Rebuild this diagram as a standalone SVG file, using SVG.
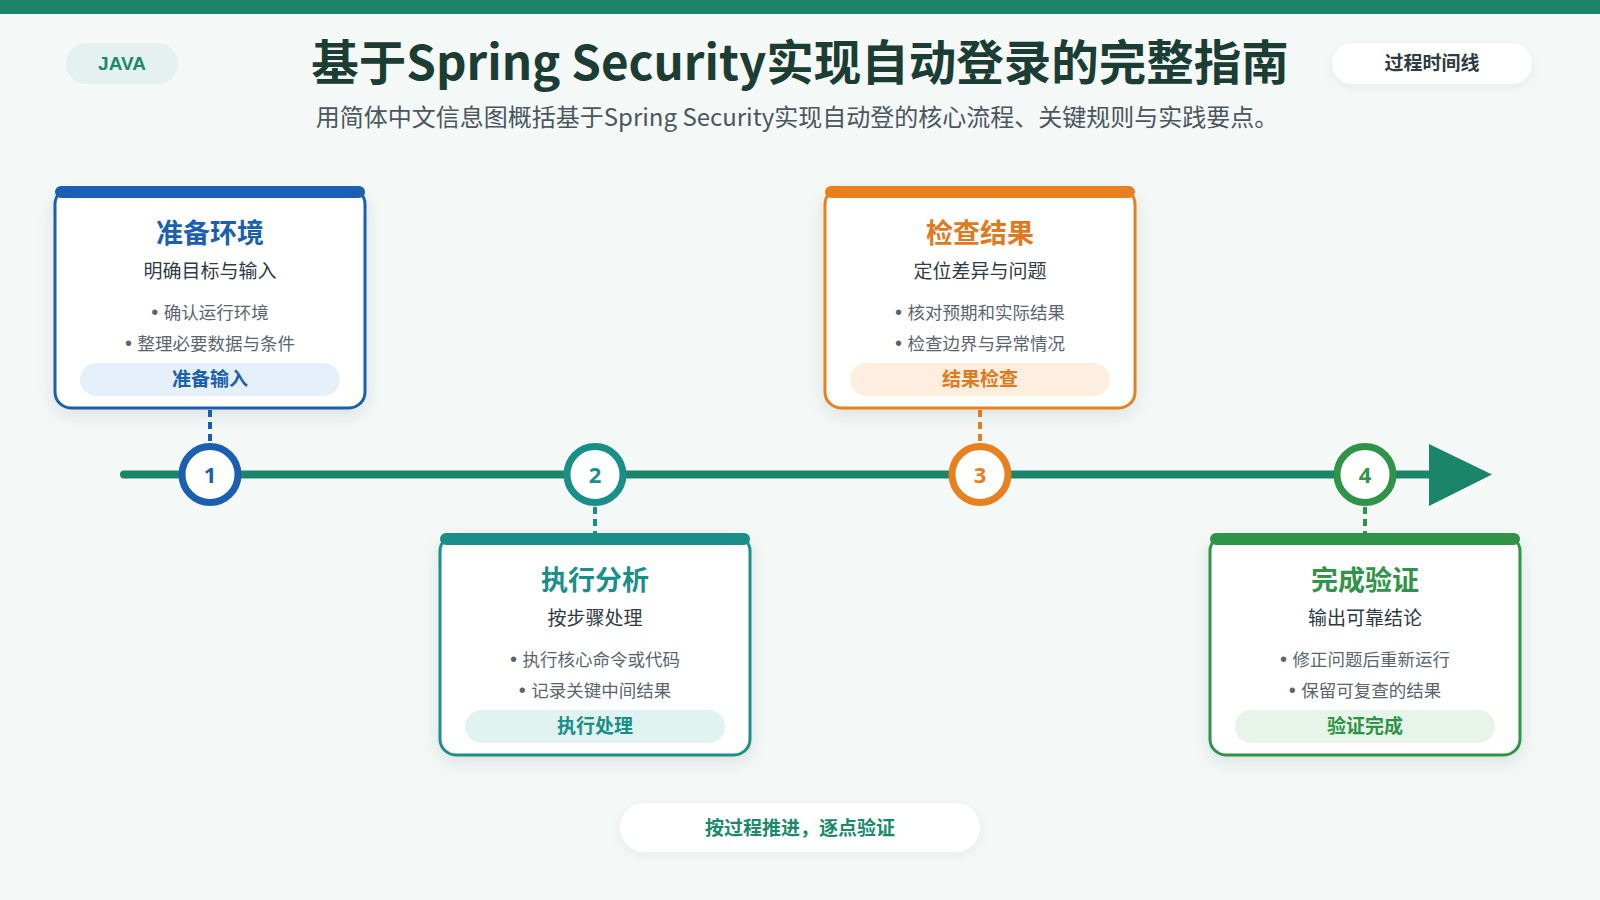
<svg xmlns="http://www.w3.org/2000/svg" width="1600" height="900" viewBox="0 0 1600 900">
<defs>
<filter id="sh" x="-20%" y="-20%" width="140%" height="150%">
<feDropShadow dx="0" dy="6" stdDeviation="8" flood-color="#2a4a40" flood-opacity="0.12"/>
</filter>
<filter id="sh2" x="-20%" y="-40%" width="140%" height="180%">
<feDropShadow dx="0" dy="3" stdDeviation="6" flood-color="#2a4a40" flood-opacity="0.06"/>
</filter>
<style>
text{font-family:"Noto Sans CJK SC","Noto Sans",sans-serif;text-anchor:middle}
.title{font-size:47.5px;font-weight:700;fill:#1b3d33}
.sub{font-size:24px;fill:#4b5660}
.ct{font-size:27px;font-weight:700}
.cs{font-size:19px;fill:#2f3a44}
.cb{font-size:17.5px;fill:#5a6570}
.dot{font-family:"Liberation Sans",sans-serif;font-size:20px;fill:#5a6570}
.cp{font-size:19px;font-weight:700}
.num{font-size:22px;font-weight:700;font-family:"Noto Sans","Liberation Sans",sans-serif}
.card{fill:#ffffff;stroke-width:3}
.dash{stroke-width:4;stroke-dasharray:7 5;fill:none}
</style>
</defs>
<rect width="1600" height="900" fill="#f4f8f7"/>
<rect width="1600" height="14" fill="#1b8569"/>

<g id="header">
<rect x="66" y="43" width="112" height="41" rx="20.5" fill="#e4f1ee"/>
<text x="122" y="70" style="font-size:19px;font-weight:700;fill:#1b8a6b;font-family:'Liberation Sans',sans-serif">JAVA</text>
<text class="title" x="800" y="80">基于Spring Security实现自动登录的完整指南</text>
<text class="sub" x="797" y="126">用简体中文信息图概括基于Spring Security实现自动登的核心流程、关键规则与实践要点。</text>
<rect x="1332" y="43" width="200" height="41" rx="20.5" fill="#ffffff" filter="url(#sh2)"/>
<text x="1432" y="70" style="font-size:19px;font-weight:700;fill:#2e3b42">过程时间线</text>
</g>

<g id="connectors">
<line x1="124" y1="474.5" x2="1440" y2="474.5" stroke="#1b8569" stroke-width="8" stroke-linecap="round"/>
<polygon points="1429,444 1492,474.5 1429,506" fill="#1b8569"/>
<line class="dash" x1="210" y1="410" x2="210" y2="443" stroke="#1a5fb0"/>
<line class="dash" x1="595" y1="507" x2="595" y2="534" stroke="#1a8f8a"/>
<line class="dash" x1="980" y1="410" x2="980" y2="443" stroke="#e8801f"/>
<line class="dash" x1="1365" y1="507" x2="1365" y2="534" stroke="#2f9447"/>
</g>

<g id="step1">
<circle cx="210" cy="474.5" r="28" fill="#fff" stroke="#1a5fb0" stroke-width="7"/>
<text class="num" x="210" y="482.5" fill="#1a5fb0">1</text>
<rect class="card" x="55" y="188" width="310" height="220" rx="16" stroke="#1a5fb0" filter="url(#sh)"/>
<rect x="55" y="186" width="310" height="12" rx="6" fill="#1a5fb0"/>
<text class="ct" x="210" y="243" fill="#1a5fb0">准备环境</text>
<text class="cs" x="210" y="278">明确目标与输入</text>
<text class="cb" x="210" y="319"><tspan class="dot">• </tspan>确认运行环境</text>
<text class="cb" x="210" y="350"><tspan class="dot">• </tspan>整理必要数据与条件</text>
<rect x="80" y="363" width="260" height="33" rx="16.5" fill="#e6f0fb"/>
<text class="cp" x="210" y="386" fill="#1a5fb0">准备输入</text>
</g>

<g id="step2">
<circle cx="595" cy="474.5" r="28" fill="#fff" stroke="#1a8f8a" stroke-width="7"/>
<text class="num" x="595" y="482.5" fill="#1a8f8a">2</text>
<rect class="card" x="440" y="535" width="310" height="220" rx="16" stroke="#1a8f8a" filter="url(#sh)"/>
<rect x="440" y="533" width="310" height="12" rx="6" fill="#1a8f8a"/>
<text class="ct" x="595" y="590" fill="#1a8f8a">执行分析</text>
<text class="cs" x="595" y="625">按步骤处理</text>
<text class="cb" x="595" y="666"><tspan class="dot">• </tspan>执行核心命令或代码</text>
<text class="cb" x="595" y="697"><tspan class="dot">• </tspan>记录关键中间结果</text>
<rect x="465" y="710" width="260" height="33" rx="16.5" fill="#e0f3f1"/>
<text class="cp" x="595" y="733" fill="#1a8f8a">执行处理</text>
</g>

<g id="step3">
<circle cx="980" cy="474.5" r="28" fill="#fff" stroke="#e8801f" stroke-width="7"/>
<text class="num" x="980" y="482.5" fill="#e8801f">3</text>
<rect class="card" x="825" y="188" width="310" height="220" rx="16" stroke="#e8801f" filter="url(#sh)"/>
<rect x="825" y="186" width="310" height="12" rx="6" fill="#e8801f"/>
<text class="ct" x="980" y="243" fill="#e07a1f">检查结果</text>
<text class="cs" x="980" y="278">定位差异与问题</text>
<text class="cb" x="980" y="319"><tspan class="dot">• </tspan>核对预期和实际结果</text>
<text class="cb" x="980" y="350"><tspan class="dot">• </tspan>检查边界与异常情况</text>
<rect x="850" y="363" width="260" height="33" rx="16.5" fill="#fdeedf"/>
<text class="cp" x="980" y="386" fill="#e07a1f">结果检查</text>
</g>

<g id="step4">
<circle cx="1365" cy="474.5" r="28" fill="#fff" stroke="#2f9447" stroke-width="7"/>
<text class="num" x="1365" y="482.5" fill="#2f9447">4</text>
<rect class="card" x="1210" y="535" width="310" height="220" rx="16" stroke="#2f9447" filter="url(#sh)"/>
<rect x="1210" y="533" width="310" height="12" rx="6" fill="#2f9447"/>
<text class="ct" x="1365" y="590" fill="#2f9447">完成验证</text>
<text class="cs" x="1365" y="625">输出可靠结论</text>
<text class="cb" x="1365" y="666"><tspan class="dot">• </tspan>修正问题后重新运行</text>
<text class="cb" x="1365" y="697"><tspan class="dot">• </tspan>保留可复查的结果</text>
<rect x="1235" y="710" width="260" height="33" rx="16.5" fill="#e6f4ea"/>
<text class="cp" x="1365" y="733" fill="#2f9447">验证完成</text>
</g>

<g id="footer">
<rect x="620" y="803" width="360" height="49" rx="24.5" fill="#ffffff" filter="url(#sh2)"/>
<text x="800" y="835" style="font-size:19px;font-weight:700;fill:#1b8a6b">按过程推进，逐点验证</text>
</g>
</svg>
